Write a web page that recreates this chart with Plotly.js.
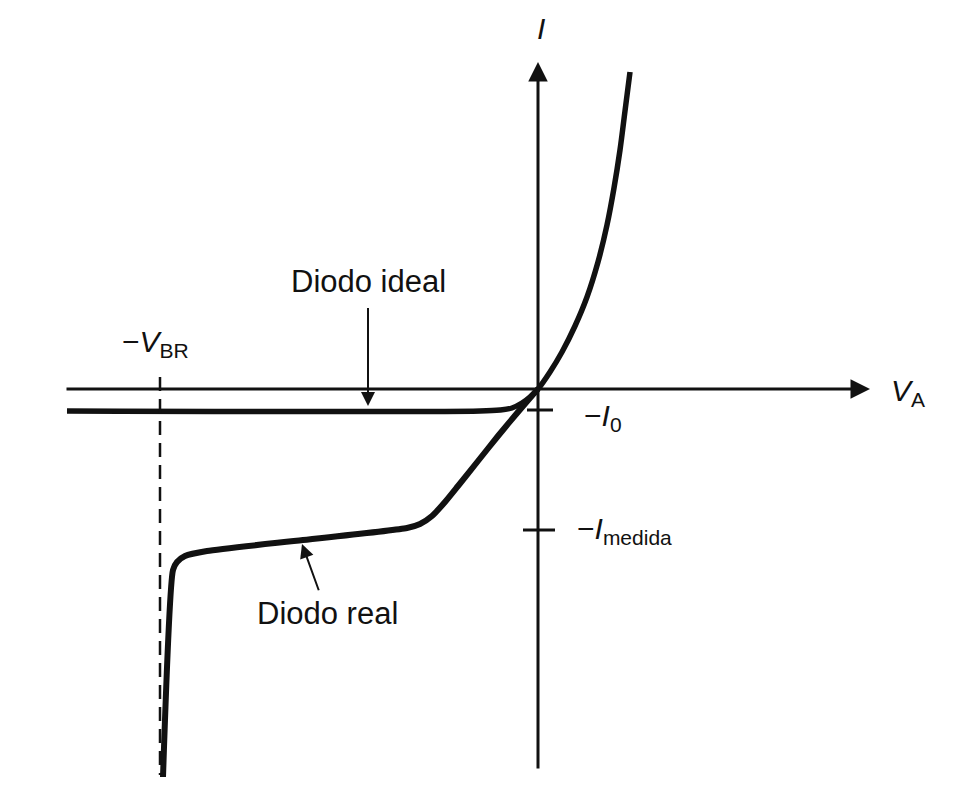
<!DOCTYPE html>
<html>
<head>
<meta charset="utf-8">
<script src="https://cdn.plot.ly/plotly-3.0.1.min.js"></script>
<style>html,body{margin:0;padding:0;background:#fff;}#chart{width:976px;height:794px;}</style>
</head>
<body>
<div id="chart"></div>
<script>
// Ideal diode characteristic (V_A, I) in arbitrary units
const idealV = [-4.71, -0.58, -0.38, -0.26, -0.16, -0.08, 0.00, 0.12, 0.24, 0.37, 0.49, 0.60, 0.69, 0.76, 0.82, 0.87, 0.92];
const idealI = [-0.22, -0.22, -0.21, -0.19, -0.14, -0.08, 0.00, 0.17, 0.37, 0.63, 0.92, 1.27, 1.64, 2.01, 2.39, 2.78, 3.17];
// Real diode characteristic (reverse part; merges with the ideal curve for forward bias)
const realV = [-3.75, -3.65, -3.61, -3.53, -3.31, -2.35, -1.31, -1.18, -1.06, -0.93, -0.80, -0.60, -0.40, -0.20, -0.08, 0.00];
const realI = [-3.88, -1.81, -1.73, -1.67, -1.62, -1.51, -1.39, -1.35, -1.27, -1.13, -0.97, -0.72, -0.47, -0.23, -0.09, 0.00];
// Reference levels
const vBR = -3.78;
const levelI0 = -0.21;
const levelImedida = -1.41;
const axisXRange = [-5.38, 4.38];
const axisYRange = [-4.05, 3.89];

const ink = '#111111';
const fam = 'Liberation Sans, Arial, sans-serif';
const f = (s) => ({family: fam, color: ink, size: s});

const traces = [
  {x: idealV, y: idealI, mode: 'lines', line: {color: ink, width: 5.5, shape: 'spline', smoothing: 0.9}, hoverinfo: 'skip'},
  {x: realV, y: realI, mode: 'lines', line: {color: ink, width: 6, shape: 'spline', smoothing: 0.6}, hoverinfo: 'skip'}
];

const shapes = [
  {type: 'line', x0: vBR, x1: vBR, y0: 0.12, y1: -3.86, line: {color: ink, width: 2.5, dash: '14px,8px'}},
  {type: 'line', x0: -0.11, x1: 0.15, y0: levelI0, y1: levelI0, line: {color: ink, width: 3}},
  {type: 'line', x0: -0.15, x1: 0.17, y0: levelImedida, y1: levelImedida, line: {color: ink, width: 3}}
];

const annotations = [
  // axes with arrows
  {x: 3.32, y: 0, ax: -4.73, ay: 0, xref: 'x', yref: 'y', axref: 'x', ayref: 'y', text: '', showarrow: true, arrowhead: 2, arrowsize: 1.3, arrowwidth: 3, arrowcolor: ink},
  {x: 0, y: 3.27, ax: 0, ay: -3.81, xref: 'x', yref: 'y', axref: 'x', ayref: 'y', text: '', showarrow: true, arrowhead: 2, arrowsize: 1.3, arrowwidth: 3, arrowcolor: ink},
  // labels with pointer arrows
  {x: -1.70, y: -0.17, ax: -1.70, ay: 1.08, xref: 'x', yref: 'y', axref: 'x', ayref: 'y', text: 'Diodo ideal', showarrow: true, arrowhead: 2, arrowsize: 1.4, arrowwidth: 2, arrowcolor: ink, standoff: 0, startstandoff: 8, font: f(31)},
  {x: -2.36, y: -1.55, ax: -2.11, ay: -2.24, xref: 'x', yref: 'y', axref: 'x', ayref: 'y', text: 'Diodo real', showarrow: true, arrowhead: 2, arrowsize: 1.4, arrowwidth: 2, arrowcolor: ink, standoff: 0, startstandoff: 4, font: f(31)},
  // symbol labels
  {x: -4.18, y: 0.46, xanchor: 'left', text: '\u2212<i>V</i><sub>BR</sub>', showarrow: false, font: f(30)},
  {x: 0.44, y: -0.28, xanchor: 'left', text: '\u2212<i>I</i><sub>0</sub>', showarrow: false, font: f(30)},
  {x: 0.37, y: -1.41, xanchor: 'left', text: '\u2212<i>I</i><sub>medida</sub>', showarrow: false, font: f(30)},
  {x: 0.03, y: 3.61, text: '<i>I</i>', showarrow: false, font: f(30)},
  {x: 3.51, y: -0.03, xanchor: 'left', text: '<i>V</i><sub>A</sub>', showarrow: false, font: f(30)}
];

const layout = {
  width: 976, height: 794,
  margin: {l: 0, r: 0, t: 0, b: 0},
  paper_bgcolor: '#ffffff', plot_bgcolor: '#ffffff',
  showlegend: false,
  xaxis: {range: axisXRange, visible: false, fixedrange: true},
  yaxis: {range: axisYRange, visible: false, fixedrange: true},
  shapes: shapes,
  annotations: annotations
};

Plotly.newPlot('chart', traces, layout, {displayModeBar: false, staticPlot: true});
</script>
</body>
</html>
